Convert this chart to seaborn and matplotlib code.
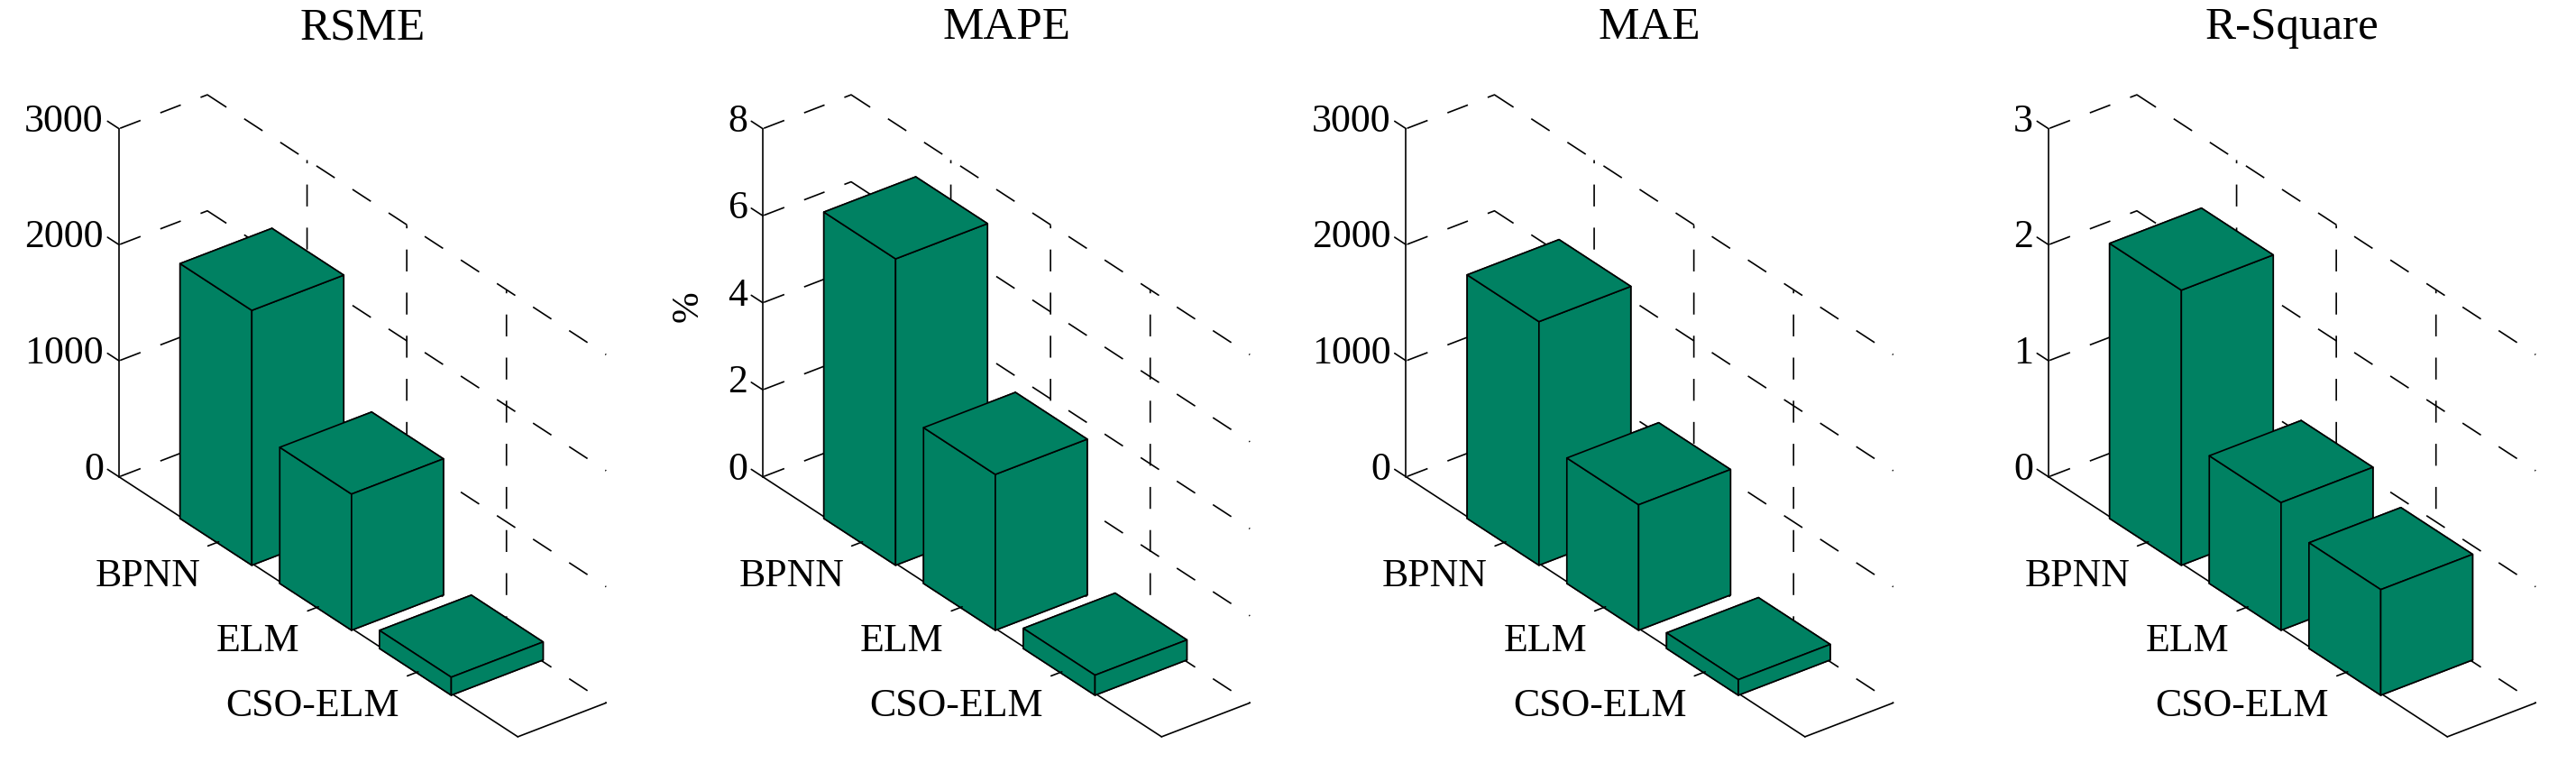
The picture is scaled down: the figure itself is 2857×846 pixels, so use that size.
import matplotlib
matplotlib.use('Agg')
import matplotlib.pyplot as plt
import matplotlib.transforms as mtrans
import numpy as np
import seaborn as sns
from mpl_toolkits.mplot3d import proj3d

sns.set_theme(style='white', font='Liberation Serif', rc={
    'lines.scale_dashes': False,
    'grid.color': 'black',
    'grid.linewidth': 1.2,
    'axes.edgecolor': 'black',
    'axes.linewidth': 1.2,
    'xtick.color': 'black',
    'ytick.color': 'black',
    'text.color': 'black',
    'axes.labelcolor': 'black',
})

methods = ['BPNN', 'ELM', 'CSO-ELM']
bar_pos = [1, 2, 3]

titles = ['RSME', 'MAPE', 'MAE', 'R-Square']
rsme = [2196, 1173, 155]
mape = [7.04, 3.58, 0.46]
mae = [2099, 1081, 134]
r_square = [2.37, 1.10, 0.91]

rsme_ticks = [0, 1000, 2000, 3000]
mape_ticks = [0, 2, 4, 6, 8]
mae_ticks = [0, 1000, 2000, 3000]
r_square_ticks = [0, 1, 2, 3]

bar_color = '#008162'

FIG_W, FIG_H = 2857, 846
DPI = 100

# dash runs in pixels, the original restarts its dashes at each wall corner
z_grid_dash = [1.2, 23.5] + [24.3, 23.5] * 10 + [33.3, 23.5, 24.3, 23.5, 24.3, 100]
x_grid_dash = [24.3, 23.5, 24.3, 23.5, 33.3, 23.5] + [24.3, 23.5] * 7 + [3.6, 100]


def dash_style(runs):
    return (0, tuple(r * 72 / DPI for r in runs))


def pixel(ax, x, y, z):
    xs, ys, _ = proj3d.proj_transform(x, y, z, ax.get_proj())
    return ax.transData.transform((xs, ys))


def place_axes(ax, left, top):
    # the 3d box has to land on exact pixels, so measure it and move the axes
    side = 836.0
    ax.set_position([0, 0, side / FIG_W, side / FIG_H])
    ax.apply_aspect()
    side *= 442.3 / (pixel(ax, 4, 0, 0) - pixel(ax, 0, 0, 0))[0]
    ax.set_position([0, 0, side / FIG_W, side / FIG_H])
    ax.apply_aspect()
    p0 = pixel(ax, 0, 0, 0)
    ax.set_position([(left - p0[0]) / FIG_W, (FIG_H - top - p0[1]) / FIG_H, side / FIG_W, side / FIG_H])
    ax.apply_aspect()


def shift_tick_labels(ax, shift):
    # Axis3D puts transData back on its ticks at every draw
    get_ticks = ax.xaxis.get_major_ticks

    def shifted(numticks=None):
        ticks = get_ticks(numticks)
        for tick in ticks:
            tick.label1.set_transform(ax.transData + shift)
        return ticks

    ax.xaxis.get_major_ticks = shifted


fig = plt.figure(figsize=(FIG_W / DPI, FIG_H / DPI), dpi=DPI)

panels = [
    (titles[0], rsme, rsme_ticks, 132.0),
    (titles[1], mape, mape_ticks, 846.0),
    (titles[2], mae, mae_ticks, 1559.5),
    (titles[3], r_square, r_square_ticks, 2272.0),
]

label_shift = mtrans.ScaledTranslation(-18 / DPI, -27 / DPI, fig.dpi_scale_trans)

for title, values, zticks, left in panels:
    ax = fig.add_subplot(projection='3d', proj_type='ortho')
    ax.patch.set_visible(False)
    ax.view_init(elev=30, azim=-37.5)
    ax.set_box_aspect((726.5, 123.5, 445.7))

    ax.bar3d(np.array(bar_pos) - 0.37, -0.02, 0, 0.72, 1.04, values,
             color=bar_color, edgecolor='black', linewidth=1.2, shade=False)

    ax.set_xlim(0, 4)
    ax.set_ylim(0, 1)
    ax.set_zlim(zticks[0], zticks[-1])
    ax.set_xticks(bar_pos, methods)
    ax.set_yticks([])
    ax.set_zticks(zticks)

    for axis in (ax.xaxis, ax.yaxis, ax.zaxis):
        axis.pane.set_visible(False)
        axis._axinfo['tick'].update(inward_factor=0, outward_factor=0)
    ax.xaxis._axinfo['grid']['linestyle'] = dash_style(x_grid_dash)
    ax.zaxis._axinfo['grid']['linestyle'] = dash_style(z_grid_dash)
    ax.zaxis.set_ticks_position('lower')
    ax.tick_params(axis='x', labelsize=31.6, pad=0)
    ax.tick_params(axis='z', labelsize=31.6, pad=2)

    # the 3d axes tick directions differ from the original, draw the marks here
    for z in zticks:
        ax.plot([-0.115, 0], [0, 0], [z, z], color='black', lw=1.2)
    for x in bar_pos:
        ax.plot([x, x], [-0.122, 0], [0, 0], color='black', lw=1.2)

    place_axes(ax, left, 528.7)
    shift_tick_labels(ax, label_shift)

    for lab in ax.get_xticklabels():
        lab.set_ha('right')
        lab.set_va('center')
    for lab in ax.get_zticklabels():
        lab.set_ha('right')
        lab.set_va('center')

    centre = ax.transAxes.inverted().transform(pixel(ax, 2, 0.5, zticks[0]))
    ttl = ax.set_title(title, fontsize=36.8, va='baseline')
    ttl.set_position((centre[0], ax.transAxes.inverted().transform((0, FIG_H - 69))[1]))

fig.text(763.6 / FIG_W, 1 - 340 / FIG_H, '%', fontsize=30, rotation=90, ha='center', va='center')

fig.savefig('out.png', dpi=DPI)
